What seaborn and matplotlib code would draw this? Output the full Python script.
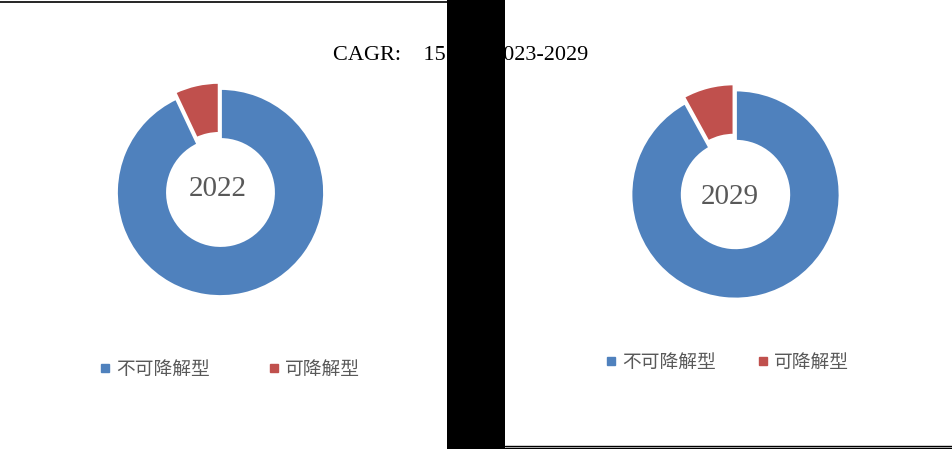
import matplotlib
matplotlib.use('Agg')
import matplotlib.pyplot as plt
from matplotlib.lines import Line2D
from matplotlib.patches import Rectangle
import seaborn as sns

sns.set_theme(style='white')
plt.rcParams['font.family'] = ['Liberation Serif', 'Noto Sans CJK SC', 'DejaVu Sans']

# 数据
categories = ['不可降解型', '可降解型']
years = ['2022', '2029']
share_2022 = [93, 7]
share_2029 = [92, 8]
title_left = 'CAGR:    15.0%'
title_right = '2023-2029'

colors = ['#4F81BD', '#C0504D']
W, H = 953, 449

fig = plt.figure(figsize=(W / 100, H / 100), dpi=100)


def donut(cx, cy, r, values, label, dx, dy):
    # 以像素为单位放置坐标轴
    s = r * 1.2
    ax = fig.add_axes([(cx - s) / W, 1 - (cy + s) / H, 2 * s / W, 2 * s / H])
    ax.pie(values, colors=colors, startangle=90, counterclock=False,
           radius=1.0, explode=[0, 0.06],
           wedgeprops=dict(width=0.49, edgecolor='white', linewidth=2))
    ax.set_xlim(-1.2, 1.2)
    ax.set_ylim(-1.2, 1.2)
    ax.set_aspect('equal')
    ax.axis('off')
    ax.text(dx / r, -dy / r, label, ha='center', va='center', fontsize=21, color='#595959')
    return ax


donut(220.5, 192.5, 104, share_2022, years[0], -3, -3)
donut(735.5, 194.5, 104.5, share_2029, years[1], -6, 3)

handles = [Line2D([], [], marker='s', linestyle='', markersize=6, color=c) for c in colors]
fig.legend(handles, categories, loc='center', bbox_to_anchor=(230 / W, 1 - 369 / H),
           ncol=2, frameon=False, labelcolor='#595959',
           handlelength=0.6, handletextpad=0.3, columnspacing=3.1,
           prop={'family': ['Noto Sans CJK SC'], 'size': 13.5})
fig.legend(handles, categories, loc='center', bbox_to_anchor=(727 / W, 1 - 362 / H),
           ncol=2, frameon=False, labelcolor='#595959',
           handlelength=0.6, handletextpad=0.3, columnspacing=2.2,
           prop={'family': ['Noto Sans CJK SC'], 'size': 13.5})

fig.text(333 / W, 1 - 55 / H, title_left, ha='left', va='center', fontsize=16, color='black')
fig.text(588 / W, 1 - 55 / H, title_right, ha='right', va='center', fontsize=16, color='black')

# 边框线与遮挡块
fig.add_artist(Line2D([0, 447 / W], [1 - 1.5 / H, 1 - 1.5 / H], color='black', linewidth=1.2))
fig.add_artist(Line2D([505 / W, 1], [1 - 445.5 / H, 1 - 445.5 / H], color='black', linewidth=1))
fig.add_artist(Line2D([505 / W, 1], [1 - 448 / H, 1 - 448 / H], color='black', linewidth=1))
fig.add_artist(Rectangle((447 / W, 0), 58 / W, 1, transform=fig.transFigure,
                         facecolor='black', edgecolor='none', zorder=10))

fig.savefig('out.png', dpi=100)
